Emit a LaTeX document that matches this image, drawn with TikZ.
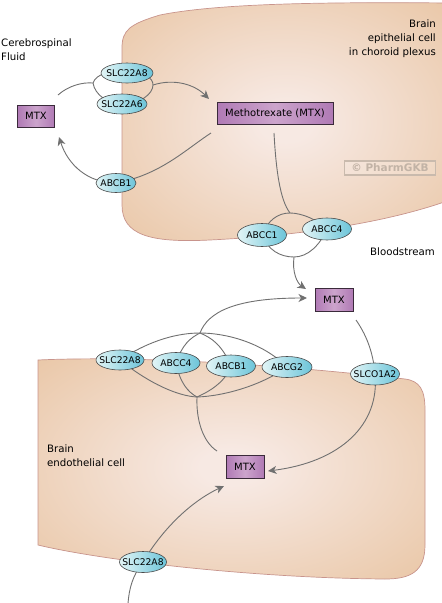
\documentclass[tikz,border=0pt]{standalone}
\usepackage{fontspec}
\setmainfont{DejaVu Sans}
\usetikzlibrary{shapes.geometric,arrows.meta}
\pgfdeclarelayer{cells}
\pgfdeclarelayer{links}
\pgfsetlayers{cells,links,main}
\definecolor{cellout}{HTML}{E6BE97}
\definecolor{cellin}{HTML}{F7E9E3}
\definecolor{cellline}{HTML}{C8948C}
\definecolor{cyanL}{HTML}{E2F5F6}
\definecolor{cyanR}{HTML}{6CC4D9}
\definecolor{protline}{HTML}{4A4A4A}
\definecolor{purp}{HTML}{B07AB5}
\definecolor{purpL}{HTML}{CCA4CC}
\definecolor{boxline}{HTML}{3A2A3A}
\definecolor{linkc}{HTML}{707070}
\definecolor{wmtext}{HTML}{C2B3A6}
\definecolor{wmline}{HTML}{C9BAAD}
\pgfdeclareradialshading{cellshade}{\pgfpoint{0bp}{0bp}}{color(0bp)=(cellin); color(4bp)=(cellin); color(44bp)=(cellout); color(75bp)=(cellout)}
\newcommand\plab[1]{\makebox[0pt]{#1}}
\begin{document}
\begin{tikzpicture}[x=1pt,y=-1pt,
  box/.style={draw=boxline, line width=0.9pt, left color=purp, right color=purp, middle color=purpL, minimum height=22pt, inner sep=0pt, font=\fontsize{10}{12}\selectfont},
  prot/.style={ellipse, draw=protline, line width=0.6pt, left color=cyanL, right color=cyanR, inner sep=0pt, minimum width=49pt, minimum height=21pt, font=\fontsize{9.2}{10}\selectfont},
  link/.style={draw=linkc, line width=0.9pt},
  arrowend/.style={-{Stealth[length=8.5pt,width=8pt,inset=2.5pt]}},
  lbl/.style={font=\fontsize{10.2}{14}\selectfont, inner sep=0pt}]
\useasboundingbox (0,0) rectangle (442,603);

% cells
\begin{pgfonlayer}{cells}
\begin{scope}
\clip (0,0) rectangle (442,603);
\path[draw=cellline, line width=0.7pt, shade, shading=cellshade]
  (122,205) -- (122,48) .. controls (122,30) and (130,24) .. (160,15)
  .. controls (220,3) and (330,2) .. (450,3) -- (450,200)
  .. controls (380,225) and (290,236) .. (210,240)
  .. controls (150,243) and (122,235) .. (122,205) -- cycle;
\path[draw=cellline, line width=0.7pt, shade, shading=cellshade]
  (38,360) .. controls (150,355) and (300,367) .. (405,379)
  .. controls (420,381) and (425,390) .. (425,410) -- (425,545)
  .. controls (425,572) and (410,579) .. (385,579)
  .. controls (250,578) and (100,560) .. (38,545) -- cycle;
\end{scope}
\end{pgfonlayer}

% texts
\node[lbl, anchor=west, align=left] (csf) at (1,50) {Cerebrospinal\\Fluid};
\node[lbl, anchor=east, align=right] (epi) at (436,39) {Brain\\epithelial cell\\in choroid plexus};
\node[lbl, anchor=west] (blood) at (370,252) {Bloodstream};
\node[lbl, anchor=west, align=left] (endo) at (47,456) {Brain\\endothelial cell};
\node[draw=wmline, line width=1.2pt, fill=white, fill opacity=0.15, text opacity=1, text=wmtext, minimum width=91pt, minimum height=14pt, inner sep=0pt, font=\bfseries\fontsize{10.5}{12}\selectfont] (wm) at (390,168) {© PharmGKB};

% boxes
\node[box, minimum width=37pt] (csfmtx) at (36,116) {MTX};
\node[box, minimum width=116pt] (mtxcell) at (275,113) {Methotrexate (MTX)};
\node[box, minimum width=38pt, minimum height=23pt] (mtxblood) at (334,300) {MTX};
\node[box, minimum width=38pt, minimum height=23pt] (mtxendo) at (245,467) {MTX};

% proteins
\node[prot, minimum width=52pt, minimum height=20pt] (sA8) at (127,73) {\plab{SLC22A8}};
\node[prot, minimum width=50pt, minimum height=20pt] (sA6) at (122,104) {\plab{SLC22A6}};
\node[prot, minimum width=40pt, minimum height=19pt] (abcb1t) at (116,183) {\plab{ABCB1}};
\node[prot, minimum height=23pt] (abcc1) at (262,235) {\plab{ABCC1}};
\node[prot, minimum height=22pt] (abcc4t) at (327,229) {\plab{ABCC4}};
\node[prot, minimum width=48pt, minimum height=20pt] (sA8b) at (120,360) {\plab{SLC22A8}};
\node[prot, minimum width=48pt] (abcc4b) at (176,363) {\plab{ABCC4}};
\node[prot, minimum height=22pt] (abcb1b) at (231,366) {\plab{ABCB1}};
\node[prot, minimum width=50pt] (abcg2) at (287,367) {\plab{ABCG2}};
\node[prot, minimum height=22pt] (slco) at (375,374) {\plab{SLCO1A2}};
\node[prot, minimum width=47pt] (sA8c) at (143,562) {\plab{SLC22A8}};

% free ends and junctions
\coordinate (c1s) at (58,95);
\coordinate (L1) at (93,83);
\coordinate (R1) at (153,85);
\coordinate (c1e) at (209,99);
\coordinate (c2s) at (211,133);
\coordinate (c3e) at (59,137);
\coordinate (c4s) at (274,133);
\coordinate (T) at (290,213);
\coordinate (B) at (294,257);
\coordinate (c5e) at (306,289);
\coordinate (H1) at (200,333);
\coordinate (c6e) at (307,298);
\coordinate (H2) at (197,397);
\coordinate (c7e) at (217,451);
\coordinate (c8s) at (356,320);
\coordinate (c9e) at (268,471);
\coordinate (c10s) at (128,604);
\coordinate (c10e) at (224,486);

\begin{pgfonlayer}{links}
\draw[link] (c1s) .. controls (68,86) and (82,82) .. (L1);
\draw[link] (L1) .. controls (96,74) and (110,70) .. (sA8.center) .. controls (145,72) and (153,78) .. (R1);
\draw[link] (L1) .. controls (95,95) and (108,104) .. (sA6.center) .. controls (140,104) and (153,94) .. (R1);
\draw[link, arrowend] (R1) .. controls (175,78) and (195,85) .. (c1e);
\draw[link] (c2s) .. controls (185,150) and (160,175) .. (abcb1t.center);
\draw[link, arrowend] (abcb1t.center) .. controls (88,183) and (68,165) .. (c3e);
\draw[link] (c4s) .. controls (276,170) and (280,200) .. (T);
\draw[link] (abcc1.center) .. controls (268,220) and (278,213) .. (T) .. controls (302,213) and (318,220) .. (abcc4t.center);
\draw[link] (abcc1.center) .. controls (268,250) and (280,257) .. (B) .. controls (308,257) and (320,245) .. (abcc4t.center);
\draw[link, arrowend] (B) .. controls (292,272) and (297,283) .. (c5e);
\draw[link, arrowend] (H1) .. controls (208,312) and (235,298) .. (c6e);
\draw[link] (sA8b.center) .. controls (150,340) and (178,333) .. (H1) .. controls (225,333) and (262,342) .. (abcg2.center);
\draw[link] (H1) .. controls (190,338) and (182,345) .. (abcc4b.center);
\draw[link] (H1) .. controls (212,338) and (222,345) .. (abcb1b.center);
\draw[link] (sA8b.center) .. controls (150,384) and (178,396) .. (H2) .. controls (225,396) and (262,385) .. (abcg2.center);
\draw[link] (abcc4b.center) .. controls (180,383) and (188,392) .. (H2);
\draw[link] (abcb1b.center) .. controls (225,383) and (208,392) .. (H2);
\draw[link] (H2) .. controls (196,420) and (203,442) .. (c7e);
\draw[link] (c8s) .. controls (365,333) and (373,350) .. (slco.center);
\draw[link, arrowend] (slco.center) .. controls (380,425) and (340,462) .. (c9e);
\draw[link] (c10s) .. controls (129,588) and (133,575) .. (sA8c.center);
\draw[link, arrowend] (sA8c.center) .. controls (162,530) and (190,502) .. (c10e);
\end{pgfonlayer}
\end{tikzpicture}
\end{document}
